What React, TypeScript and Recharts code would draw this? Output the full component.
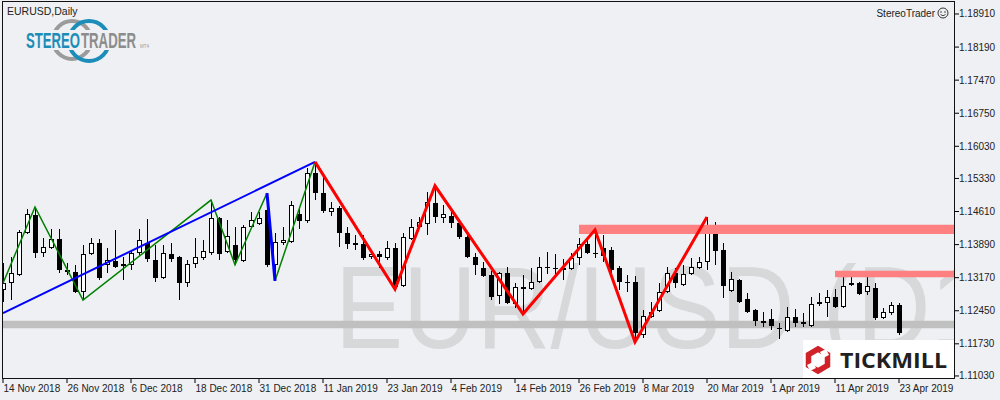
import React from 'react'
import { ComposedChart, Bar, Line, XAxis, YAxis, ReferenceArea } from 'recharts'

// tick labels under the chart, one every 8 daily bars
const dateLabels = [
  '14 Nov 2018', '26 Nov 2018', '6 Dec 2018', '18 Dec 2018', '31 Dec 2018',
  '11 Jan 2019', '23 Jan 2019', '4 Feb 2019', '14 Feb 2019', '26 Feb 2019',
  '8 Mar 2019', '20 Mar 2019', '1 Apr 2019', '11 Apr 2019', '23 Apr 2019',
]
const dateTickBars = [0, 8, 16, 24, 32, 40, 48, 56, 64, 72, 80, 88, 96, 104, 112]
const priceTicks = [1.1103, 1.1173, 1.1245, 1.1317, 1.1389, 1.1461, 1.1533, 1.1603, 1.1675, 1.1747, 1.1819, 1.1891]

// EURUSD daily OHLC, 14 Nov 2018 .. 23 Apr 2019
const opens = [
  1.1290, 1.1305, 1.1323, 1.1414, 1.1454, 1.1371, 1.1382, 1.1401, 1.1334, 1.1329,
  1.1286, 1.1369, 1.1393, 1.1345, 1.1353, 1.1342, 1.1345, 1.1371, 1.1393, 1.1356,
  1.1316, 1.1369, 1.1362, 1.1305, 1.1347, 1.1360, 1.1371, 1.1447, 1.1373, 1.1388,
  1.1353, 1.1427, 1.1434, 1.1464, 1.1345, 1.1393, 1.1395, 1.1456, 1.1440, 1.1545,
  1.1501, 1.1460, 1.1469, 1.1414, 1.1393, 1.1390, 1.1362, 1.1369, 1.1360, 1.1382,
  1.1299, 1.1401, 1.1427, 1.1434, 1.1480, 1.1447, 1.1451, 1.1436, 1.1406, 1.1362,
  1.1338, 1.1323, 1.1277, 1.1327, 1.1260, 1.1297, 1.1292, 1.1308, 1.1340, 1.1338,
  1.1338, 1.1336, 1.1360, 1.1390, 1.1371, 1.1382, 1.1377, 1.1338, 1.1308, 1.1308,
  1.1192, 1.1231, 1.1244, 1.1286, 1.1327, 1.1301, 1.1325, 1.1338, 1.1351, 1.1414,
  1.1377, 1.1288, 1.1312, 1.1270, 1.1247, 1.1223, 1.1227, 1.1207, 1.1201, 1.1231,
  1.1220, 1.1212, 1.1264, 1.1262, 1.1275, 1.1253, 1.1305, 1.1305, 1.1286, 1.1294,
  1.1229, 1.1240, 1.1257,
]
const highs = [
  1.1349, 1.1362, 1.1421, 1.1467, 1.1471, 1.1403, 1.1423, 1.1423, 1.1349, 1.1345,
  1.1388, 1.1403, 1.1401, 1.1382, 1.1421, 1.1362, 1.1377, 1.1423, 1.1445, 1.1388,
  1.1388, 1.1393, 1.1364, 1.1356, 1.1403, 1.1399, 1.1486, 1.1449, 1.1443, 1.1427,
  1.1432, 1.1460, 1.1460, 1.1501, 1.1414, 1.1427, 1.1484, 1.1469, 1.1556, 1.1569,
  1.1536, 1.1482, 1.1473, 1.1427, 1.1410, 1.1410, 1.1377, 1.1375, 1.1397, 1.1393,
  1.1414, 1.1445, 1.1449, 1.1504, 1.1517, 1.1475, 1.1460, 1.1443, 1.1414, 1.1371,
  1.1351, 1.1332, 1.1329, 1.1340, 1.1305, 1.1323, 1.1338, 1.1362, 1.1373, 1.1369,
  1.1358, 1.1371, 1.1403, 1.1399, 1.1421, 1.1410, 1.1384, 1.1342, 1.1323, 1.1321,
  1.1247, 1.1264, 1.1305, 1.1340, 1.1338, 1.1345, 1.1360, 1.1362, 1.1449, 1.1438,
  1.1393, 1.1329, 1.1314, 1.1283, 1.1249, 1.1242, 1.1249, 1.1218, 1.1253, 1.1249,
  1.1240, 1.1275, 1.1283, 1.1290, 1.1292, 1.1325, 1.1327, 1.1308, 1.1325, 1.1305,
  1.1251, 1.1264, 1.1262,
]
const lows = [
  1.1264, 1.1268, 1.1321, 1.1412, 1.1360, 1.1362, 1.1379, 1.1327, 1.1323, 1.1283,
  1.1268, 1.1366, 1.1312, 1.1327, 1.1338, 1.1312, 1.1334, 1.1366, 1.1351, 1.1308,
  1.1314, 1.1351, 1.1268, 1.1297, 1.1338, 1.1356, 1.1366, 1.1356, 1.1371, 1.1345,
  1.1351, 1.1425, 1.1432, 1.1340, 1.1310, 1.1388, 1.1393, 1.1423, 1.1436, 1.1486,
  1.1458, 1.1451, 1.1384, 1.1379, 1.1377, 1.1356, 1.1358, 1.1338, 1.1356, 1.1292,
  1.1297, 1.1399, 1.1425, 1.1410, 1.1436, 1.1436, 1.1425, 1.1401, 1.1360, 1.1323,
  1.1318, 1.1268, 1.1260, 1.1260, 1.1251, 1.1238, 1.1290, 1.1305, 1.1325, 1.1316,
  1.1312, 1.1334, 1.1345, 1.1369, 1.1360, 1.1351, 1.1321, 1.1290, 1.1286, 1.1177,
  1.1186, 1.1229, 1.1242, 1.1283, 1.1294, 1.1299, 1.1323, 1.1336, 1.1334, 1.1345,
  1.1273, 1.1286, 1.1262, 1.1240, 1.1212, 1.1210, 1.1203, 1.1183, 1.1199, 1.1210,
  1.1210, 1.1210, 1.1255, 1.1231, 1.1251, 1.1251, 1.1299, 1.1279, 1.1279, 1.1225,
  1.1227, 1.1236, 1.1192,
]
const closes = [
  1.1305, 1.1327, 1.1416, 1.1456, 1.1371, 1.1384, 1.1401, 1.1334, 1.1329, 1.1286,
  1.1369, 1.1393, 1.1316, 1.1356, 1.1340, 1.1347, 1.1371, 1.1399, 1.1358, 1.1316,
  1.1371, 1.1358, 1.1305, 1.1347, 1.1362, 1.1375, 1.1447, 1.1369, 1.1408, 1.1356,
  1.1427, 1.1443, 1.1447, 1.1345, 1.1395, 1.1399, 1.1475, 1.1440, 1.1545, 1.1501,
  1.1462, 1.1469, 1.1414, 1.1390, 1.1388, 1.1360, 1.1369, 1.1362, 1.1382, 1.1297,
  1.1406, 1.1427, 1.1438, 1.1482, 1.1449, 1.1456, 1.1436, 1.1406, 1.1362, 1.1345,
  1.1321, 1.1275, 1.1327, 1.1262, 1.1297, 1.1292, 1.1308, 1.1340, 1.1338, 1.1336,
  1.1334, 1.1360, 1.1390, 1.1371, 1.1369, 1.1364, 1.1334, 1.1308, 1.1305, 1.1196,
  1.1233, 1.1242, 1.1286, 1.1327, 1.1305, 1.1325, 1.1340, 1.1351, 1.1414, 1.1375,
  1.1299, 1.1314, 1.1264, 1.1242, 1.1223, 1.1218, 1.1212, 1.1205, 1.1231, 1.1218,
  1.1216, 1.1260, 1.1260, 1.1275, 1.1253, 1.1299, 1.1301, 1.1281, 1.1299, 1.1229,
  1.1242, 1.1257, 1.1196,
]

// zigzag swings drawn on the chart (bar index -> price)
const redBars = [39, 49, 54, 65, 74, 79, 88]
const redLevels = [1.1569, 1.1292, 1.1517, 1.1238, 1.1421, 1.1177, 1.1449]
const greenBarsA = [0, 4, 10, 26, 29, 33]
const greenLevelsA = [1.1305, 1.1471, 1.1268, 1.1486, 1.1345, 1.1501]
const greenBarsB = [34, 39]
const greenLevelsB = [1.1310, 1.1569]
const blueBarsA = [0, 39]
const blueLevelsA = [1.1240, 1.1569]
const blueBarsB = [33, 34]
const blueLevelsB = [1.1501, 1.1310]

// horizontal zones
const upperZone = [1.1412, 1.1432]
const upperZoneStart = 72
const lowerZone = [1.1318, 1.1332]
const lowerZoneStart = 104
const greyZone = [1.1207, 1.1223]

const X_MIN = -0.125
const X_MAX = 119
const Y_MIN = 1.10964
const Y_MAX = 1.19193
const BG = '#EEF0F3'
const FONT = "'Liberation Sans', Arial, sans-serif"

const pick = (bars: number[], levels: number[], i: number) => {
  const k = bars.indexOf(i)
  return k < 0 ? null : levels[k]
}

const data = opens.map((o, i) => ({
  i,
  o,
  h: highs[i],
  l: lows[i],
  c: closes[i],
  range: [lows[i], highs[i]],
  red: pick(redBars, redLevels, i),
  greenA: pick(greenBarsA, greenLevelsA, i),
  greenB: pick(greenBarsB, greenLevelsB, i),
  blueA: pick(blueBarsA, blueLevelsA, i),
  blueB: pick(blueBarsB, blueLevelsB, i),
}))

function Candle(props: any) {
  const { x, y, width, height, payload } = props
  if (payload == null || height == null) return null
  const cx = Math.round(x + width / 2)
  const span = payload.h - payload.l || 1
  const py = (v: number) => y + ((payload.h - v) / span) * height
  const top = Math.round(py(Math.max(payload.o, payload.c)))
  const bot = Math.round(py(Math.min(payload.o, payload.c)))
  const y0 = Math.round(y)
  const y1 = Math.round(y + height)
  const up = payload.c > payload.o
  return (
    <g>
      <rect x={cx} y={y0} width={1} height={Math.max(1, y1 - y0)} fill="#000" />
      {up ? (
        <rect x={cx - 1.5} y={top + 0.5} width={4} height={Math.max(bot - top - 1, 1)} fill="#fff" stroke="#000" strokeWidth={1} />
      ) : (
        <rect x={cx - 2} y={top} width={5} height={Math.max(bot - top, 1)} fill="#000" />
      )}
    </g>
  )
}

function DateTick(props: any) {
  const { x, y, payload } = props
  const k = dateTickBars.indexOf(payload.value)
  return (
    <text x={x + 0.5} y={y + 9} fontSize={10} fill="#222" fontFamily={FONT} textAnchor="start">
      {k < 0 ? '' : dateLabels[k]}
    </text>
  )
}

function PriceTick(props: any) {
  const { x, y, payload } = props
  return (
    <text x={x} y={y + 3.5} fontSize={10} fill="#222" fontFamily={FONT} textAnchor="start">
      {Number(payload.value).toFixed(5)}
    </text>
  )
}

export default function App() {
  return (
    <div style={{ position: 'relative', width: 1000, height: 400, background: BG, overflow: 'hidden' }}>
      <style>{'body{margin:0}'}</style>

      {/* symbol watermark behind the chart, clipped to the plot */}
      <svg x={0} y={0} width={953} height={379} style={{ position: 'absolute', left: 2, top: 0, overflow: 'hidden' }}>
        <text
          transform="translate(333,348) scale(0.88,1)"
          fontSize={116}
          fontFamily={FONT}
          fill="#D6D8DA"
        >
          EUR/USD (D1
        </text>
      </svg>

      <div style={{ position: 'absolute', left: 0, top: 0 }}>
        <ComposedChart width={1000} height={400} data={data} margin={{ top: 1, right: 0, bottom: 0, left: 2 }}>
          <XAxis
            dataKey="i"
            type="number"
            domain={[X_MIN, X_MAX]}
            allowDataOverflow
            ticks={dateTickBars}
            interval={0}
            height={21}
            axisLine={false}
            tickSize={4}
            tickMargin={0}
            tickLine={{ stroke: '#000' }}
            tick={<DateTick />}
          />
          <YAxis
            type="number"
            orientation="right"
            domain={[Y_MIN, Y_MAX]}
            allowDataOverflow
            ticks={priceTicks}
            interval={0}
            width={45}
            axisLine={false}
            tickSize={4}
            tickMargin={0}
            tickLine={{ stroke: '#000' }}
            tick={<PriceTick />}
          />
          <ReferenceArea x1={X_MIN} x2={X_MAX} y1={greyZone[0]} y2={greyZone[1]} fill="#C0C0C0" fillOpacity={1} stroke="none" />
          <Bar dataKey="range" barSize={5} shape={<Candle />} isAnimationActive={false} />
          <ReferenceArea x1={upperZoneStart} x2={X_MAX} y1={upperZone[0]} y2={upperZone[1]} fill="#FF8080" fillOpacity={1} stroke="none" zIndex={350} />
          <ReferenceArea x1={lowerZoneStart} x2={X_MAX} y1={lowerZone[0]} y2={lowerZone[1]} fill="#FF8080" fillOpacity={1} stroke="none" zIndex={350} />
          <Line dataKey="greenA" stroke="#008000" strokeWidth={1.5} dot={false} connectNulls isAnimationActive={false} />
          <Line dataKey="greenB" stroke="#008000" strokeWidth={1.5} dot={false} connectNulls isAnimationActive={false} />
          <Line dataKey="blueA" stroke="#0000FF" strokeWidth={2} dot={false} connectNulls isAnimationActive={false} />
          <Line dataKey="blueB" stroke="#0000FF" strokeWidth={3} dot={false} connectNulls isAnimationActive={false} />
          <Line dataKey="red" stroke="#FF0000" strokeWidth={3} dot={false} connectNulls isAnimationActive={false} />
        </ComposedChart>
      </div>

      {/* texts, logos and frame on top */}
      <svg width={1000} height={400} style={{ position: 'absolute', left: 0, top: 0, pointerEvents: 'none' }}>
        <text x={7} y={15} fontSize={10.5} fill="#222" fontFamily={FONT}>EURUSD,Daily</text>

        <g>
          <circle cx={72} cy={40} r={19} fill="none" stroke="#9B9B9B" strokeWidth={4} />
          <circle cx={89} cy={41} r={20} fill="none" stroke="#1B8DB8" strokeWidth={4} />
          <rect x={24} y={30} width={118} height={20} fill={BG} />
          <text x={26} y={48} fontSize={22} fontWeight="bold" fill="#1B8DB8" textLength={54} lengthAdjust="spacingAndGlyphs" fontFamily="'Liberation Sans Narrow', 'Liberation Sans', Arial">STEREO</text>
          <text x={81} y={48} fontSize={22} fontWeight="bold" fill="#8C8C8C" textLength={55} lengthAdjust="spacingAndGlyphs" fontFamily="'Liberation Sans Narrow', 'Liberation Sans', Arial">TRADER</text>
          <text x={140} y={48} fontSize={4.5} fill="#999" fontFamily={FONT}>MT4</text>
        </g>

        <text x={935} y={17} fontSize={10} textAnchor="end" fill="#222" fontFamily={FONT}>StereoTrader</text>
        <circle cx={943} cy={13} r={5} fill="none" stroke="#333" strokeWidth={1} />
        <circle cx={941} cy={12} r={0.8} fill="#333" />
        <circle cx={945} cy={12} r={0.8} fill="#333" />
        <path d="M940.5 14.5 Q943 17 945.5 14.5" fill="none" stroke="#333" strokeWidth={0.9} />

        <rect x={803} y={340} width={151} height={38} fill="#fff" />
        <g>
          <polygon points="818,349 827.5,354.5 827.5,365.5 818,371 808.5,365.5 808.5,354.5" fill="none" stroke="#CF2229" strokeWidth={5.5} />
          <polygon points="820,352 826,349 829,355 823,358" fill="#fff" />
          <polygon points="816,368 810,371 807,365 813,362" fill="#fff" />
        </g>
        <text x={840} y={368} fontSize={22} fontWeight="bold" fill="#231F20" textLength={107} lengthAdjust="spacingAndGlyphs" fontFamily="'Open Sans', Roboto, Arial">TICKMILL</text>

        <rect x={2.5} y={1.5} width={952} height={377} fill="none" stroke="#111" strokeWidth={1} />
      </svg>
    </div>
  )
}
